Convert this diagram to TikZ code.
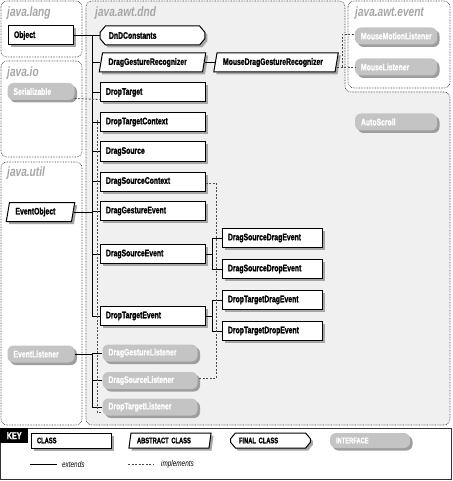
\documentclass[tikz,border=0pt]{standalone}
\usepackage{fontspec}
\setsansfont{Liberation Sans}
\newfontfamily\clsfont{Liberation Sans}[FakeStretch=0.72, FakeBold=1.2]
\newfontfamily\pkgfont{Liberation Sans}[FakeStretch=0.75]
\usetikzlibrary{shapes.geometric,shapes.misc,shadows}

\tikzset{
  pkg/.style={draw=black!75, dash pattern=on 0.7pt off 0.9pt, line width=0.6pt, rounded corners=6pt},
  pkglabel/.style={anchor=west, inner sep=0pt, text=black!35, font=\pkgfont\bfseries\itshape\fontsize{13.5}{12}\selectfont},
  boxshadow/.style={drop shadow={shadow xshift=2.5pt, shadow yshift=-2.5pt, fill=black!35, opacity=1}},
  cls/.style={draw, line width=1pt, fill=white, boxshadow, font=\clsfont\bfseries\fontsize{9.5}{8}\selectfont,
    minimum height=19pt, text width=#1, align=left, inner xsep=6pt, inner ysep=0pt},
  cls/.default=93pt,
  abscls/.style={cls=#1, shape=trapezium, trapezium left angle=70, trapezium right angle=110, trapezium stretches body},
  abscls/.default=88pt,
  finalcls/.style={cls=#1, shape=chamfered rectangle, chamfered rectangle xsep=3pt, chamfered rectangle angle=40},
  finalcls/.default=87pt,
  iface/.style={fill=black!23, text=white, rounded corners=6pt, drop shadow={shadow xshift=2.5pt, shadow yshift=-2.5pt, fill=black!38, opacity=1},
    font=\clsfont\bfseries\fontsize{9.5}{8}\selectfont, minimum height=17pt, text width=#1, align=left, inner xsep=6pt, inner ysep=0pt},
  iface/.default=83pt,
  keyfont/.style={font=\clsfont\bfseries\fontsize{8}{7}\selectfont, minimum height=15pt},
  ext/.style={line width=0.9pt},
  impl/.style={draw=black!70, line width=0.8pt, dash pattern=on 2pt off 1.5pt},
}

\begin{document}
\begin{tikzpicture}[x=1pt, y=-1pt]
  \useasboundingbox (0,0) rectangle (452,481);
  % packages
  \draw[pkg, fill=white] (1,1) rectangle (82,57);
  \draw[pkg, fill=white] (1,61) rectangle (82,157);
  \draw[pkg, fill=white] (1,162) rectangle (82,425);
  \draw[pkg, fill=black!6] (86,1) -- (345,1) -- (345,92) -- (450,92) -- (450,425) -- (86,425) -- cycle;
  \draw[pkg, fill=white] (348,1) rectangle (450,88);
  \node[pkglabel] (langlabel) at (7,13) {java.lang};
  \node[pkglabel] (iolabel) at (7,73) {java.io};
  \node[pkglabel] (utillabel) at (7,173) {java.util};
  \node[pkglabel] (dndlabel) at (95,13) {java.awt.dnd};
  \node[pkglabel] (eventlabel) at (355,13) {java.awt.event};

  % classes and interfaces
  \node[cls=53pt] (Object) at (40.5,35.5) {Object};
  \node[iface=55pt] (Serializable) at (41,91.5) {Serializable};
  \node[abscls=50pt] (EventObject) at (40.5,212) {EventObject};
  \node[iface=55pt] (EventListener) at (41,354) {EventListener};

  \node[finalcls] (DnDConstants) at (152.5,35.5) {DnDConstants};
  \node[abscls] (DragGestureRecognizer) at (152.5,62.5) {DragGestureRecognizer};
  \node[cls] (DropTarget) at (152.5,92.5) {DropTarget};
  \node[cls] (DropTargetContext) at (152.5,122) {DropTargetContext};
  \node[cls] (DragSource) at (152.5,151.5) {DragSource};
  \node[cls] (DragSourceContext) at (152.5,181.5) {DragSourceContext};
  \node[cls] (DragGestureEvent) at (152.5,211) {DragGestureEvent};
  \node[cls] (DragSourceEvent) at (152.5,254) {DragSourceEvent};
  \node[cls] (DropTargetEvent) at (152.5,316) {DropTargetEvent};
  \node[iface] (DragGestureListener) at (150,353) {DragGestureListener};
  \node[iface] (DragSourceListener) at (150,380.5) {DragSourceListener};
  \node[iface] (DropTargetListener) at (150,407) {DropTargetListener};

  \node[abscls=106pt] (MouseDragGestureRecognizer) at (276,62.5) {MouseDragGestureRecognizer};
  \node[cls=88pt] (DragSourceDragEvent) at (272,238) {DragSourceDragEvent};
  \node[cls=88pt] (DragSourceDropEvent) at (272,269) {DragSourceDropEvent};
  \node[cls=88pt] (DropTargetDragEvent) at (272,300) {DropTargetDragEvent};
  \node[cls=88pt] (DropTargetDropEvent) at (272,331) {DropTargetDropEvent};

  \node[iface=70pt] (MouseMotionListener) at (396,36) {MouseMotionListener};
  \node[iface=70pt] (MouseListener) at (396,67) {MouseListener};
  \node[iface=70pt] (AutoScroll) at (396,122) {AutoScroll};

  % extends
  \coordinate (tk) at (92,0);
  \coordinate (tk2) at (212,0);
  \draw[ext] (Object.east) -- (Object.east -| tk) -- (tk |- DropTargetEvent.west);
  \draw[ext] (EventObject.east) -- (EventObject.east -| tk);
  \foreach \n in {DnDConstants,DragGestureRecognizer,DropTarget,DropTargetContext,DragSource,
    DragSourceContext,DragGestureEvent,DragSourceEvent,DropTargetEvent}
    \draw[ext] (tk |- \n.west) -- (\n.west);
  \draw[ext] (EventListener.east) -- (EventListener.east -| tk) -- (tk |- DropTargetListener.west);
  \foreach \n in {DragGestureListener,DragSourceListener,DropTargetListener}
    \draw[ext] (tk |- \n.west) -- (\n.west);
  \draw[ext] (DragGestureRecognizer.east) -- (MouseDragGestureRecognizer.west);
  \draw[ext] (DragSourceEvent.east) -- (DragSourceEvent.east -| tk2);
  \draw[ext] (DragSourceDragEvent.west) -- (tk2 |- DragSourceDragEvent.west) -- (tk2 |- DragSourceDropEvent.west) -- (DragSourceDropEvent.west);
  \draw[ext] (DropTargetEvent.east) -- (DropTargetEvent.east -| tk2);
  \draw[ext] (DropTargetDragEvent.west) -- (tk2 |- DropTargetDragEvent.west) -- (tk2 |- DropTargetDropEvent.west) -- (DropTargetDropEvent.west);

  % implements
  \coordinate (tk3) at (216,0);
  \coordinate (tk4) at (342,0);
  \coordinate (lsttop) at (97,120);
  \draw[impl] ([yshift=-7pt]Serializable.east) -- ([yshift=-7pt]DropTarget.west);
  \draw[impl] (lsttop) |- ([yshift=-5pt]DropTargetListener.west);
  \draw[impl] ([yshift=-1.5pt]DragSourceContext.east) -- ([yshift=-1.5pt]DragSourceContext.east -| tk3)
    -- ([yshift=2.5pt]tk3 |- DragSourceListener.east) -- ([yshift=2.5pt]DragSourceListener.east);
  \draw[impl] ([yshift=-4.5pt]MouseDragGestureRecognizer.east) -- (MouseListener.west);
  \draw[impl] (tk4 |- MouseListener.west) -- ([yshift=1.5pt]tk4 |- MouseMotionListener.west) -- ([yshift=1.5pt]MouseMotionListener.west);

  % key
  \draw[line width=1.2pt, draw=black!80] (0.6,428.6) rectangle (451.4,479.4);
  \node[fill=black, text=white, font=\clsfont\bfseries\fontsize{10}{9}\selectfont, minimum width=28pt,
    minimum height=15pt, inner sep=0pt, anchor=north west] (keylabel) at (0,428) {KEY};
  \node[cls=68pt, keyfont] (keyclass) at (71,440.5) {CLASS};
  \node[abscls=66pt, keyfont] (keyabstract) at (170,440.5) {ABSTRACT CLASS};
  \node[finalcls=63pt, keyfont] (keyfinal) at (270.5,440.5) {FINAL CLASS};
  \node[iface=68pt, keyfont] (keyiface) at (370,440.5) {INTERFACE};
  \coordinate (exta) at (30,464);
  \coordinate (extb) at (57,464);
  \coordinate (impla) at (128,464);
  \coordinate (implb) at (154,464);
  \draw[ext] (exta) -- (extb);
  \draw[impl] (impla) -- (implb);
  \node[anchor=west, inner sep=0pt, font=\pkgfont\itshape\fontsize{8.5}{7}\selectfont] (extlabel) at (62,464) {extends};
  \node[anchor=west, inner sep=0pt, font=\pkgfont\itshape\fontsize{8.5}{7}\selectfont] (impllabel) at (161,464) {implements};
\end{tikzpicture}
\end{document}
